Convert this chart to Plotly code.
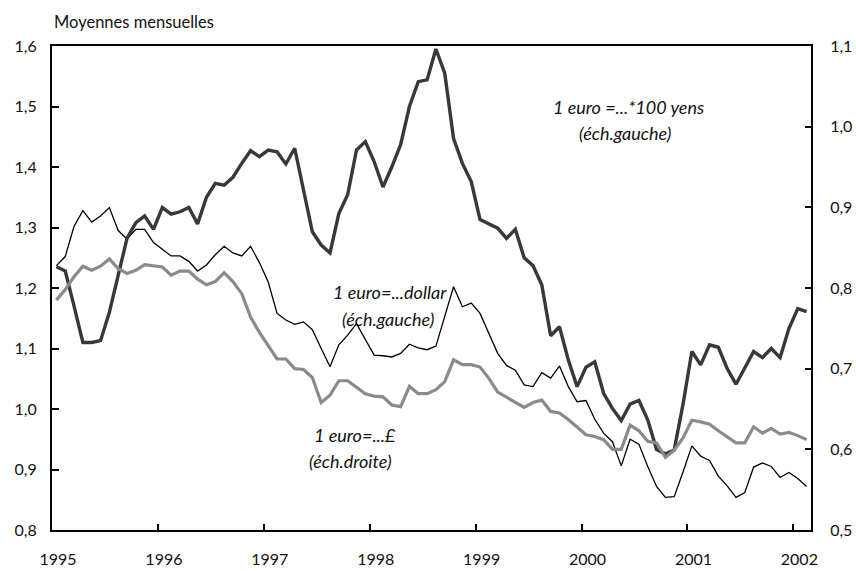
import plotly.graph_objects as go

# Monthly averages, Jan 1995 .. Feb 2002
years = [1995, 1996, 1997, 1998, 1999, 2000, 2001, 2002]
tick_labels = ["1995", "1996", "1997", "1998", "1999", "2000", "2001", "2002"]

yen_100 = [
    1.235, 1.228, 1.170, 1.110, 1.110, 1.113, 1.160, 1.224, 1.282, 1.308, 1.319, 1.297,
    1.333, 1.322, 1.326, 1.333, 1.306, 1.350, 1.373, 1.370, 1.383, 1.406, 1.427, 1.417,
    1.428, 1.425, 1.405, 1.431, 1.360, 1.293, 1.271, 1.258, 1.323, 1.354, 1.428, 1.442,
    1.409, 1.367, 1.400, 1.437, 1.500, 1.541, 1.544, 1.595, 1.555, 1.447, 1.406, 1.376,
    1.313, 1.306, 1.299, 1.282, 1.297, 1.250, 1.237, 1.205, 1.121, 1.136, 1.081, 1.037,
    1.069, 1.078, 1.026, 1.001, 0.981, 1.008, 1.014, 0.982, 0.933, 0.926, 0.932, 1.008,
    1.095, 1.073, 1.106, 1.102, 1.067, 1.041, 1.069, 1.095, 1.085, 1.100, 1.085, 1.133,
    1.166, 1.161,
]

dollar = [
    1.237, 1.252, 1.302, 1.328, 1.309, 1.319, 1.333, 1.295, 1.281, 1.297, 1.297, 1.275,
    1.264, 1.253, 1.253, 1.244, 1.228, 1.238, 1.255, 1.269, 1.258, 1.253, 1.269, 1.242,
    1.210, 1.158, 1.147, 1.140, 1.144, 1.131, 1.100, 1.070, 1.106, 1.122, 1.141, 1.114,
    1.089, 1.088, 1.086, 1.092, 1.107, 1.101, 1.098, 1.104, 1.152, 1.202, 1.169, 1.175,
    1.158, 1.125, 1.092, 1.072, 1.064, 1.040, 1.037, 1.060, 1.051, 1.071, 1.037, 1.012,
    1.014, 0.983, 0.960, 0.946, 0.906, 0.950, 0.942, 0.905, 0.872, 0.854, 0.855, 0.896,
    0.939, 0.922, 0.915, 0.889, 0.873, 0.854, 0.862, 0.904, 0.911, 0.905, 0.887, 0.895,
    0.885, 0.872,
]

pound = [
    0.785, 0.798, 0.814, 0.827, 0.822, 0.827, 0.836, 0.824, 0.818, 0.822, 0.829, 0.827,
    0.826, 0.816, 0.821, 0.821, 0.811, 0.804, 0.808, 0.819, 0.808, 0.793, 0.764, 0.745,
    0.729, 0.712, 0.712, 0.700, 0.699, 0.689, 0.658, 0.667, 0.685, 0.685, 0.677, 0.669,
    0.666, 0.665, 0.655, 0.653, 0.678, 0.669, 0.669, 0.674, 0.684, 0.711, 0.705, 0.705,
    0.702, 0.688, 0.671, 0.665, 0.658, 0.652, 0.658, 0.661, 0.647, 0.645, 0.637, 0.628,
    0.618, 0.616, 0.612, 0.600, 0.600, 0.630, 0.623, 0.610, 0.608, 0.590, 0.599, 0.614,
    0.636, 0.634, 0.631, 0.623, 0.616, 0.608, 0.608, 0.628, 0.620, 0.626, 0.619, 0.621,
    0.617, 0.612,
]

months = [1995 + (i + 0.5) / 12 for i in range(len(yen_100))]

FONT = "Lato"

fig = go.Figure()
fig.add_trace(go.Scatter(x=months, y=pound, yaxis="y2", mode="lines",
                         line=dict(color="#8a8a8a", width=3.2), name="£"))
fig.add_trace(go.Scatter(x=months, y=dollar, mode="lines",
                         line=dict(color="#000000", width=1.3), name="dollar"))
fig.add_trace(go.Scatter(x=months, y=yen_100, mode="lines",
                         line=dict(color="#383838", width=3.4), name="yen"))

ann_font = dict(family=FONT, size=18, color="#111111")
annotations = [
    dict(text="Moyennes mensuelles", xref="paper", yref="paper", x=0, y=1.0496,
         xanchor="left", yanchor="middle", showarrow=False,
         font=dict(family=FONT, size=16.5, color="#111111")),
    dict(text="<i>1 euro =...*100 yens</i>", x=2000.44, y=1.499, showarrow=False,
         font=ann_font, xanchor="center", yanchor="middle"),
    dict(text="<i>(éch.gauche)</i>", x=2000.41, y=1.457, showarrow=False,
         font=ann_font, xanchor="center", yanchor="middle"),
    dict(text="<i>1 euro=...dollar</i>", x=1998.19, y=1.1935, showarrow=False,
         font=ann_font, xanchor="center", yanchor="middle"),
    dict(text="<i>(éch.gauche)</i>", x=1998.17, y=1.149, showarrow=False,
         font=ann_font, xanchor="center", yanchor="middle"),
    dict(text="<i>1 euro=...£</i>", x=1997.86, y=0.9567, showarrow=False,
         font=ann_font, xanchor="center", yanchor="middle"),
    dict(text="<i>(éch.droite)</i>", x=1997.82, y=0.914, showarrow=False,
         font=ann_font, xanchor="center", yanchor="middle"),
]

fig.update_layout(
    width=856, height=571,
    margin=dict(l=52, r=45, t=46, b=41, autoexpand=False),
    paper_bgcolor="white", plot_bgcolor="white",
    showlegend=False,
    separators=", ",
    font=dict(family=FONT, size=16, color="#111111"),
    xaxis=dict(range=[1995, 2002 + 2 / 12], tickvals=years, ticktext=tick_labels,
               ticks="inside", ticklen=6, tickwidth=1.5, tickcolor="black",
               showline=True, linecolor="black", linewidth=2, mirror=True,
               showgrid=False, zeroline=False, ticklabelshift=6,
               ticklabelstandoff=14, automargin=False,
               tickfont=dict(family=FONT, size=16)),
    yaxis=dict(range=[0.8, 1.6], dtick=0.1, tick0=0.8, tickformat=".1f",
               ticks="inside", ticklen=7, tickwidth=1.5, tickcolor="black",
               showline=True, linecolor="black", linewidth=2,
               showgrid=False, zeroline=False, ticklabelstandoff=10,
               automargin=False,
               tickfont=dict(family=FONT, size=16)),
    yaxis2=dict(range=[0.5, 1.1], dtick=0.1, tick0=0.5, tickformat=".1f",
                overlaying="y", side="right",
                ticks="inside", ticklen=6, tickwidth=1.5, tickcolor="black",
                showline=True, linecolor="black", linewidth=2,
                showgrid=False, zeroline=False, ticklabelstandoff=14,
                automargin=False,
                tickfont=dict(family=FONT, size=16)),
    annotations=annotations,
)

fig.write_html("out.html",
               config={"displayModeBar": False},
               post_script="document.body.style.margin='0';document.body.style.padding='0';document.documentElement.style.overflow='hidden';")
